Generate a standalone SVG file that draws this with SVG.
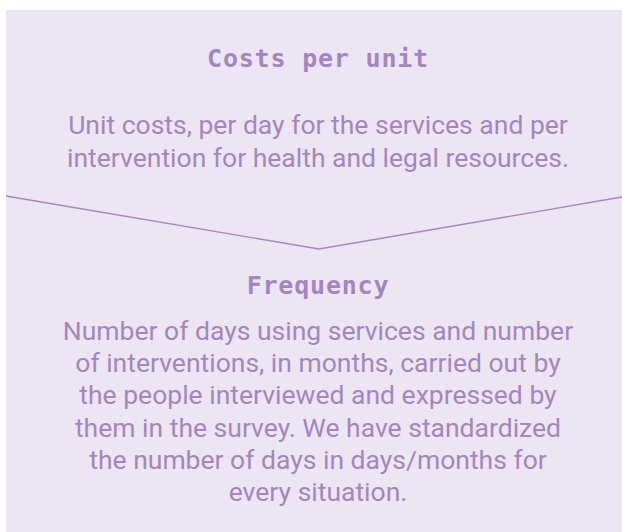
<svg xmlns="http://www.w3.org/2000/svg" width="622" height="532" viewBox="0 0 622 532">
<style>
.title{font-family:"DejaVu Sans Mono","Liberation Mono",monospace;font-weight:bold;font-size:25px;letter-spacing:0.8px;fill:#a584c3;text-anchor:middle}
.body{font-family:Roboto,"Liberation Sans",sans-serif;font-weight:400;font-size:26.5px;fill:#a584c3;text-anchor:middle}
.div{fill:none;stroke:#a584c3;stroke-width:1.3}
</style>
<rect x="6" y="10" width="616" height="522" fill="#ece6f2"/>
<g id="costs-per-unit">
<text class="title" x="318" y="67">Costs per unit</text>
<text class="body" x="318" y="134">Unit costs, per day for the services and per</text>
<text class="body" x="318" y="167">intervention for health and legal resources.</text>
</g>
<g id="connectors">
<polyline class="div" points="6,196 319,249 622,197"/>
</g>
<g id="frequency">
<text class="title" x="318" y="294">Frequency</text>
<text class="body" x="318" y="340">Number of days using services and number</text>
<text class="body" x="318" y="372">of interventions, in months, carried out by</text>
<text class="body" x="318" y="404">the people interviewed and expressed by</text>
<text class="body" x="318" y="437">them in the survey. We have standardized</text>
<text class="body" x="318" y="469">the number of days in days/months for</text>
<text class="body" x="318" y="501">every situation.</text>
</g>
</svg>
